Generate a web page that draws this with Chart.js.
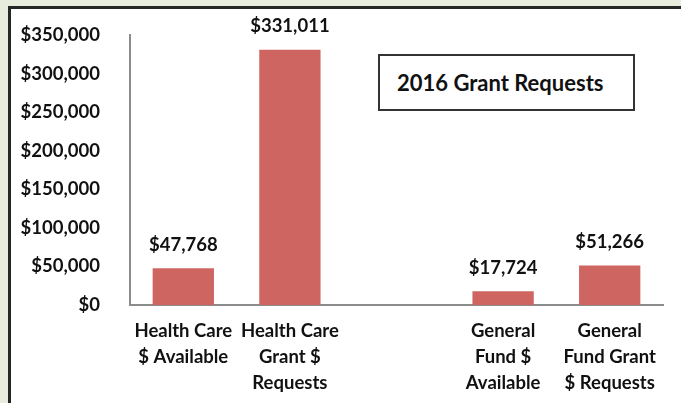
<!DOCTYPE html>
<html>
<head>
<meta charset="utf-8">
<script src="https://cdn.jsdelivr.net/npm/chart.js@4"></script>
<style>
  html, body { margin: 0; padding: 0; }
  body { width: 681px; height: 403px; background: #e8ecdc; position: relative; overflow: hidden; }
  #panel { position: absolute; left: 8px; top: 6px; width: 673px; height: 397px; background: #fff;
           border-left: 3px solid #262626; border-top: 3px solid #262626; }
  #wrap { position: absolute; left: 0; top: 0; width: 673px; height: 397px; }
  #title { position: absolute; left: 367px; top: 45px; width: 236px; height: 53px;
           border: 2px solid #333; background: #fff; font: bold 22px Lato, sans-serif; color: #111;
           line-height: 53px; padding-left: 17px; box-sizing: content-box; white-space: nowrap; }
</style>
</head>
<body>
<div id="panel">
  <div id="wrap"><canvas id="chart"></canvas></div>
  <div id="title">2016 Grant Requests</div>
</div>
<script>
const categories = [
  ["Health Care", "$ Available"],
  ["Health Care", "Grant $", "Requests"],
  "",
  ["General", "Fund $", "Available"],
  ["General", "Fund Grant", "$ Requests"]
];
const values = [47768, 331011, null, 17724, 51266];
const yTicks = [0, 50000, 100000, 150000, 200000, 250000, 300000, 350000];

const money = v => "$" + v.toLocaleString("en-US");

// labels over the bars
const barLabels = {
  id: "barLabels",
  afterDatasetsDraw(chart) {
    const ctx = chart.ctx;
    const meta = chart.getDatasetMeta(0);
    ctx.save();
    ctx.font = "bold 18.5px Lato, sans-serif";
    ctx.fillStyle = "#111";
    ctx.textAlign = "center";
    ctx.textBaseline = "bottom";
    meta.data.forEach((bar, i) => {
      if (values[i] == null) return;
      ctx.fillText(money(values[i]), bar.x, bar.y - 14);
    });
    ctx.restore();
  }
};

const ctx = document.getElementById("chart").getContext("2d");
new Chart(ctx, {
  type: "bar",
  data: {
    labels: categories,
    datasets: [{
      data: values,
      backgroundColor: "#cf6561",
      borderWidth: 0,
      categoryPercentage: 1,
      barPercentage: 0.575
    }]
  },
  options: {
    responsive: true,
    maintainAspectRatio: false,
    animation: false,
    layout: { padding: { top: 26, right: 21, left: 0, bottom: 0 } },
    plugins: { legend: { display: false }, tooltip: { enabled: false } },
    scales: {
      x: {
        grid: { display: false },
        border: { color: "#8c8c8c", width: 2 },
        ticks: {
          color: "#111",
          font: { family: "Lato, sans-serif", weight: "bold", size: 18.5, lineHeight: 1.4 },
          padding: 5,
          maxRotation: 0,
          autoSkip: false
        },
        afterFit(s) { s.height = 101; s.paddingLeft = 0; s.paddingRight = 0; }
      },
      y: {
        min: 0,
        max: 350000,
        grid: { display: false },
        border: { color: "#8c8c8c", width: 2 },
        afterBuildTicks(s) { s.ticks = yTicks.map(v => ({ value: v })); },
        ticks: {
          color: "#111",
          font: { family: "Lato, sans-serif", weight: "bold", size: 18.5 },
          padding: 22,
          callback: v => money(v)
        },
        afterFit(s) { s.width = 119; s.paddingTop = 0; s.paddingBottom = 0; }
      }
    }
  },
  plugins: [barLabels]
});
</script>
</body>
</html>
